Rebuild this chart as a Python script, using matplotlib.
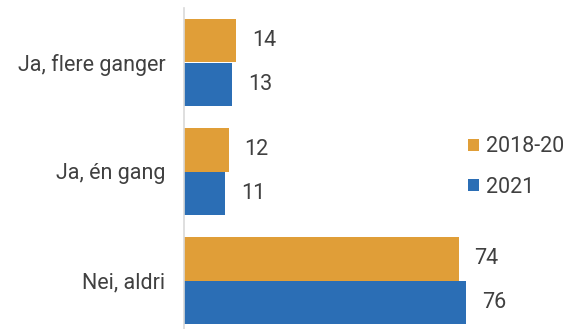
import matplotlib.pyplot as plt
import numpy as np

categories = ['Ja, flere ganger', 'Ja, én gang', 'Nei, aldri']
series_names = ['2018-20', '2021']
vals_2018_20 = [14, 12, 74]
vals_2021 = [13, 11, 76]

orange = '#E09E38'
blue = '#2B6EB5'
txt = '#404040'

plt.rcParams['font.family'] = ['Roboto', 'DejaVu Sans']
fs = 15.5

fig = plt.figure(figsize=(5.72, 3.29), dpi=100)
ax = fig.add_axes([184 / 572, -6 / 329, 371 / 572, 327 / 329])

y = np.arange(len(categories))
h = 0.4
b1 = ax.barh(y - h / 2, vals_2018_20, height=h, color=orange, label=series_names[0])
b2 = ax.barh(y + h / 2, vals_2021, height=h, color=blue, label=series_names[1])

ax.bar_label(b1, padding=11.5, fontsize=fs, color=txt)
ax.bar_label(b2, padding=11.5, fontsize=fs, color=txt)

ax.set_xlim(0, 100)
ax.set_ylim(2.5, -0.5)
ax.set_yticks(y)
ax.set_yticklabels(categories, fontsize=fs, color=txt)
ax.tick_params(axis='y', length=0, pad=13.5)
ax.set_xticks([])
for s in ['top', 'right', 'bottom']:
    ax.spines[s].set_visible(False)
ax.spines['left'].set_color('#d9d9d9')
ax.spines['left'].set_linewidth(1.2)

fig.legend(handles=[b1, b2], loc='center left', bbox_to_anchor=(449 / 572, 1 - 167 / 329),
           frameon=False, fontsize=fs, labelcolor=txt, handlelength=0.5, handleheight=0.5,
           handletextpad=0.3, labelspacing=0.9)

fig.savefig('out.png', dpi=100)
